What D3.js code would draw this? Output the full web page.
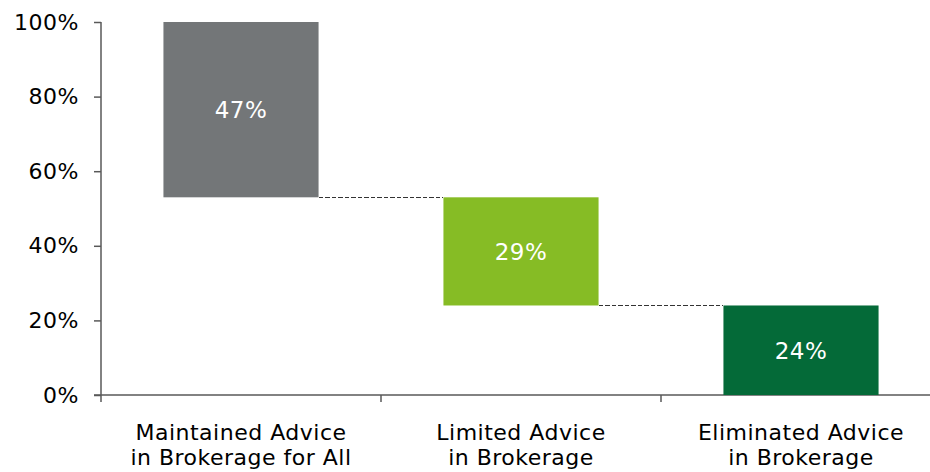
<!DOCTYPE html>
<html>
<head>
<meta charset="utf-8">
<script src="https://cdn.jsdelivr.net/npm/d3@7"></script>
<style>
  body { margin: 0; background: #fff; }
  svg text { font-family: "DejaVu Sans", Verdana, sans-serif; }
</style>
</head>
<body>
<div id="chart"></div>
<script>
// data
var categories = [["Maintained Advice", "in Brokerage for All"], ["Limited Advice", "in Brokerage"], ["Eliminated Advice", "in Brokerage"]];
var values = [47, 29, 24];
var colors = ["#737678", "#86bc25", "#046a38"];
var yTicks = [0, 20, 40, 60, 80, 100];

var width = 930, height = 472;
var svg = d3.select("#chart").append("svg")
    .attr("width", width)
    .attr("height", height);

var x = d3.scaleBand()
    .domain(d3.range(categories.length))
    .range([101, 941])
    .paddingInner(0.446)
    .paddingOuter(0.223);

var y = d3.scaleLinear()
    .domain([0, 100])
    .range([395, 22]);

// waterfall: each bar starts where the previous one ended
var tops = [];
var run = 100;
values.forEach(function(v) {
    tops.push({ top: run, bottom: run - v });
    run -= v;
});

// y axis
var yAxis = svg.append("g")
    .attr("transform", "translate(101,0)")
    .call(d3.axisLeft(y).tickValues(yTicks).tickSize(7).tickPadding(15).tickFormat(function(d) { return d + "%"; }));
yAxis.selectAll("text").style("font-size", "22px").style("letter-spacing", "0.5px").attr("fill", "#000");
yAxis.selectAll("line, path").attr("stroke", "#595959").attr("stroke-width", 1.5);
yAxis.select("path").attr("d", "M0," + y(100) + "V" + y(0));

// x axis
var step = x.step();
var xTicks = d3.range(categories.length + 1).map(function(i) { return 101 + i * step; });
svg.append("line")
    .attr("x1", 94).attr("x2", width)
    .attr("y1", y(0)).attr("y2", y(0))
    .attr("stroke", "#595959").attr("stroke-width", 1.5);
svg.selectAll(".xtick").data(xTicks).enter().append("line")
    .attr("x1", function(d) { return d; }).attr("x2", function(d) { return d; })
    .attr("y1", y(0)).attr("y2", y(0) + 7)
    .attr("stroke", "#595959").attr("stroke-width", 1.5);

// connectors
svg.selectAll(".conn").data(tops.slice(0, -1)).enter().append("line")
    .attr("x1", function(d, i) { return x(i) + x.bandwidth(); })
    .attr("x2", function(d, i) { return x(i + 1); })
    .attr("y1", function(d) { return Math.round(y(d.bottom)) + 0.5; })
    .attr("y2", function(d) { return Math.round(y(d.bottom)) + 0.5; })
    .attr("stroke", "#333")
    .attr("stroke-width", 1)
    .attr("shape-rendering", "crispEdges")
    .attr("stroke-dasharray", "4.5,2");

// bars
svg.selectAll(".bar").data(tops).enter().append("rect")
    .attr("x", function(d, i) { return x(i); })
    .attr("width", x.bandwidth())
    .attr("y", function(d) { return y(d.top); })
    .attr("height", function(d) { return y(d.bottom) - y(d.top); })
    .attr("fill", function(d, i) { return colors[i]; });

svg.selectAll(".val").data(tops).enter().append("text")
    .attr("x", function(d, i) { return x(i) + x.bandwidth() / 2; })
    .attr("y", function(d) { return (y(d.top) + y(d.bottom)) / 2; })
    .attr("dy", "0.36em")
    .attr("text-anchor", "middle")
    .attr("fill", "#fff")
    .style("font-size", "23px")
    .style("letter-spacing", "0.5px")
    .text(function(d, i) { return values[i] + "%"; });

// category labels
var lab = svg.selectAll(".cat").data(categories).enter().append("text")
    .attr("text-anchor", "middle")
    .attr("fill", "#000")
    .style("font-size", "22px")
    .style("letter-spacing", "0.5px");
lab.selectAll("tspan").data(function(d, i) { return d.map(function(t) { return { t: t, i: i }; }); })
    .enter().append("tspan")
    .attr("x", function(d) { return x(d.i) + x.bandwidth() / 2; })
    .attr("y", function(d, j) { return 440 + j * 25; })
    .text(function(d) { return d.t; });
</script>
</body>
</html>
